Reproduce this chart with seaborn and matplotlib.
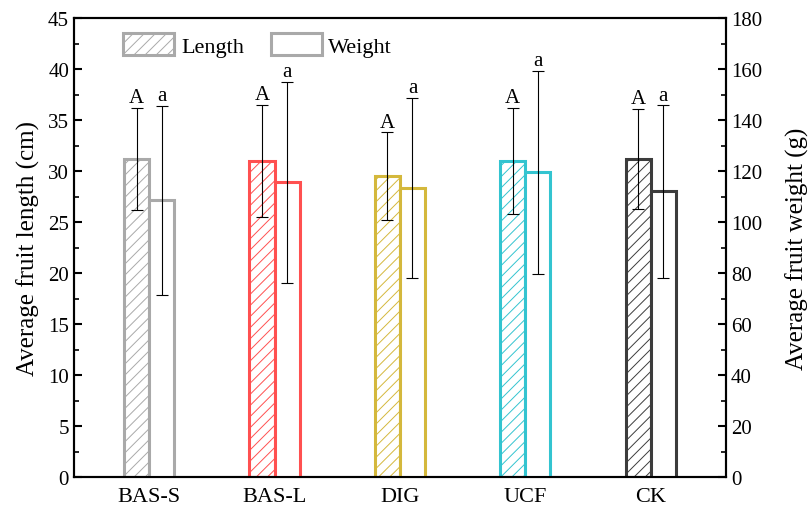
import numpy as np
import pandas as pd
import matplotlib
matplotlib.use("Agg")
import matplotlib.pyplot as plt
import seaborn as sns
from matplotlib.patches import Patch
from matplotlib.ticker import MultipleLocator

sns.set_style("ticks")
plt.rcParams["font.family"] = ["Liberation Serif", "DejaVu Serif"]
plt.rcParams["hatch.linewidth"] = 0.7
for k in ["text.color", "axes.labelcolor", "xtick.color", "ytick.color", "axes.edgecolor"]:
    plt.rcParams[k] = "black"

groups = ["BAS-S", "BAS-L", "DIG", "UCF", "CK"]
length_mean = [31.2, 31.0, 29.5, 31.0, 31.2]
length_sd = [5.0, 5.5, 4.3, 5.2, 4.9]
weight_mean = [108.5, 115.5, 113.5, 119.5, 112.0]
weight_sd = [37.0, 39.5, 35.3, 39.7, 33.8]
colors = ["#a9a9a9", "#ff5050", "#d4b83c", "#33c4d0", "#3c3c3c"]
length_letters = ["A", "A", "A", "A", "A"]
weight_letters = ["a", "a", "a", "a", "a"]

df_len = pd.DataFrame({"group": groups, "var": "Length", "value": length_mean})
df_wt = pd.DataFrame({"group": groups, "var": "Weight", "value": weight_mean})
hue_order = ["Length", "Weight"]

fig, ax1 = plt.subplots(figsize=(8.12, 5.10), dpi=100)
fig.subplots_adjust(left=0.0911, right=0.894, top=0.9627, bottom=0.0627)
ax2 = ax1.twinx()

sns.barplot(data=df_len, x="group", y="value", hue="var", hue_order=hue_order,
            order=groups, dodge=True, width=0.4, errorbar=None, legend=False, ax=ax1)
sns.barplot(data=df_wt, x="group", y="value", hue="var", hue_order=hue_order,
            order=groups, dodge=True, width=0.4, errorbar=None, legend=False, ax=ax2)

# restyle bars: white fill, coloured edge, hatch on length
for ax, hatch, means, sds, letters in [
        (ax1, "///", length_mean, length_sd, length_letters),
        (ax2, None, weight_mean, weight_sd, weight_letters)]:
    bars = [p for p in ax.patches if p.get_height() > 0]
    for bar, c in zip(bars, colors):
        bar.set_facecolor("white")
        bar.set_edgecolor(c)
        bar.set_linewidth(2.2)
        if hatch:
            bar.set_hatch(hatch)
            try:
                bar.set_hatchcolor(c)
            except AttributeError:
                pass
    xs = [b.get_x() + b.get_width() / 2 for b in bars]
    ax.errorbar(xs, means, yerr=sds, fmt="none", ecolor="black",
                elinewidth=0.8, capsize=4, capthick=0.8, zorder=5)
    for x, m, s, t in zip(xs, means, sds, letters):
        ax.annotate(t, (x, m + s), xytext=(0, 0.5), textcoords="offset points",
                    ha="center", va="bottom", fontsize=15)

ax1.set_xlim(-0.6, 4.6)
ax1.set_ylim(0, 45)
ax2.set_ylim(0, 180)
ax1.yaxis.set_major_locator(MultipleLocator(5))
ax1.yaxis.set_minor_locator(MultipleLocator(2.5))
ax2.yaxis.set_major_locator(MultipleLocator(20))
ax2.yaxis.set_minor_locator(MultipleLocator(10))

ax1.set_xlabel("")
ax1.set_ylabel("Average fruit length (cm)", fontsize=18, labelpad=6)
ax2.set_ylabel("Average fruit weight (g)", fontsize=18, labelpad=17)

for ax in (ax1, ax2):
    for sp in ax.spines.values():
        sp.set_visible(True)
        sp.set_linewidth(1.5)
    ax.tick_params(axis="y", which="major", direction="in", length=6, width=1.5, labelsize=15)
    ax.tick_params(axis="y", which="minor", direction="in", length=3.5, width=1.2)
ax1.tick_params(axis="x", length=0, labelsize=16, pad=7)
ax2.tick_params(axis="x", length=0)

handles = [Patch(facecolor="white", edgecolor="#a9a9a9", hatch="///", linewidth=2.2),
           Patch(facecolor="white", edgecolor="#a9a9a9", linewidth=2.2)]
ax1.legend(handles, ["Length", "Weight"], ncol=2, frameon=False, fontsize=16,
           loc="upper left", bbox_to_anchor=(0.045, 1.01), handlelength=2.3,
           handleheight=1.1, columnspacing=1.2, handletextpad=0.3)

plt.savefig("out.png", dpi=100)
